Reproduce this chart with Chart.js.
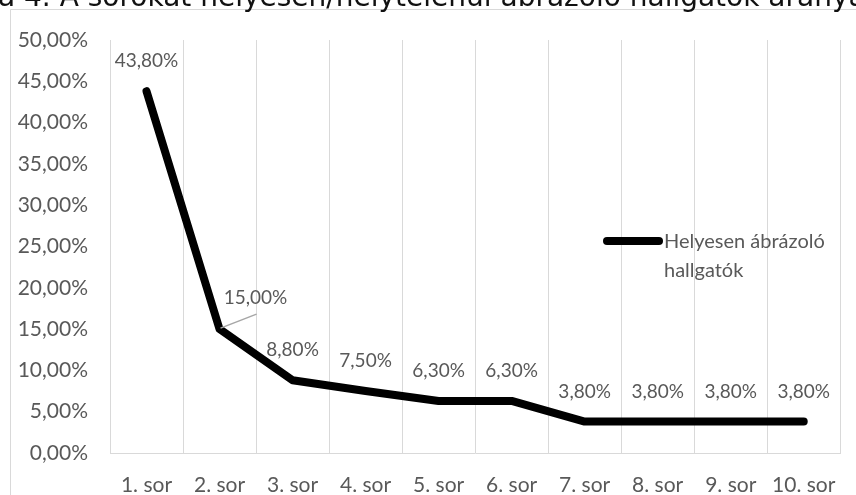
<!DOCTYPE html>
<html>
<head>
<meta charset="utf-8">
<script src="https://cdn.jsdelivr.net/npm/chart.js@4.4.1/dist/chart.umd.min.js"></script>
<style>
  html, body { margin: 0; padding: 0; background: #ffffff; overflow: hidden; }
  #wrap { position: relative; width: 856px; height: 495px; }
</style>
</head>
<body>
<div id="wrap"><canvas id="chart" width="856" height="495"></canvas></div>
<script>
// Sorok és a helyesen ábrázoló hallgatók aránya (%)
const categories = ['1. sor', '2. sor', '3. sor', '4. sor', '5. sor', '6. sor', '7. sor', '8. sor', '9. sor', '10. sor'];
const helyesenAbrazolo = [43.8, 15.0, 8.8, 7.5, 6.3, 6.3, 3.8, 3.8, 3.8, 3.8];
const seriesName = ['Helyesen ábrázoló', 'hallgatók'];
const titleText = 'ábra 4. A sorokat helyesen/helytelenül ábrázoló hallgatók aránya';
const titleHiddenPrefix = 'ábr';

const FONT = "Lato, 'DejaVu Sans', sans-serif";
const TITLE_FONT = "'DejaVu Sans', sans-serif";
const TEXT = '#595959';
const GRID = '#d9d9d9';

const fmtPct = v => v.toFixed(2).replace('.', ',') + '%';

// Outer frame plus the (top-clipped) caption above it
const framePlugin = {
  id: 'frame',
  beforeDraw(chart) {
    const ctx = chart.ctx;
    ctx.save();
    ctx.fillStyle = '#ffffff';
    ctx.fillRect(0, 0, chart.width, chart.height);
    ctx.strokeStyle = GRID;
    ctx.lineWidth = 1;
    ctx.beginPath();
    ctx.moveTo(10.5, chart.height);
    ctx.lineTo(10.5, 9.5);
    ctx.lineTo(chart.width, 9.5);
    ctx.stroke();
    ctx.font = '28px ' + TITLE_FONT;
    ctx.fillStyle = '#111111';
    ctx.textBaseline = 'alphabetic';
    ctx.textAlign = 'left';
    const off = ctx.measureText(titleHiddenPrefix).width;
    ctx.fillText(titleText, -off - 2, 6);
    ctx.restore();
  }
};

// Value labels above each point; the second one sits off to the side with a leader line
const valueLabelPlugin = {
  id: 'valueLabels',
  afterDatasetsDraw(chart) {
    const ctx = chart.ctx;
    const meta = chart.getDatasetMeta(0);
    ctx.save();
    ctx.font = '19px ' + FONT;
    ctx.fillStyle = TEXT;
    ctx.textAlign = 'center';
    ctx.textBaseline = 'middle';
    meta.data.forEach((pt, i) => {
      const v = chart.data.datasets[0].data[i];
      let x = pt.x, y = pt.y - 30;
      if (i === 1) {
        x = pt.x + 36;
        y = pt.y - 31;
        ctx.strokeStyle = '#a6a6a6';
        ctx.lineWidth = 1.5;
        ctx.beginPath();
        ctx.moveTo(pt.x + 1, pt.y - 1);
        ctx.lineTo(pt.x + 37, pt.y - 15);
        ctx.stroke();
      }
      ctx.fillText(fmtPct(v), x, y);
    });
    ctx.restore();
  }
};

// Legend drawn inside the plot, to the right
const legendPlugin = {
  id: 'sideLegend',
  afterDraw(chart) {
    const ctx = chart.ctx;
    const ds = chart.data.datasets[0];
    ctx.save();
    ctx.strokeStyle = ds.borderColor;
    ctx.lineWidth = 8;
    ctx.lineCap = 'round';
    ctx.beginPath();
    ctx.moveTo(607, 241);
    ctx.lineTo(659, 241);
    ctx.stroke();
    ctx.font = '20px ' + FONT;
    ctx.fillStyle = TEXT;
    ctx.textAlign = 'left';
    ctx.textBaseline = 'middle';
    ctx.fillText(seriesName[0], 664, 242);
    ctx.fillText(seriesName[1], 664, 271);
    ctx.restore();
  }
};

new Chart(document.getElementById('chart'), {
  type: 'line',
  data: {
    labels: categories,
    datasets: [{
      label: seriesName.join(' '),
      data: helyesenAbrazolo,
      borderColor: '#000000',
      backgroundColor: '#000000',
      borderWidth: 8,
      borderCapStyle: 'round',
      borderJoinStyle: 'round',
      pointRadius: 0,
      pointHoverRadius: 0,
      tension: 0,
      fill: false
    }]
  },
  options: {
    responsive: false,
    animation: false,
    events: [],
    layout: { padding: { top: 40, right: 12, left: 0, bottom: 0 } },
    plugins: {
      legend: { display: false },
      title: { display: false },
      tooltip: { enabled: false }
    },
    scales: {
      x: {
        type: 'category',
        offset: true,
        grid: { display: true, offset: true, color: GRID, lineWidth: 1, drawTicks: false },
        border: { display: true, color: GRID, width: 1 },
        ticks: { color: TEXT, font: { family: FONT, size: 21 }, padding: 20, maxRotation: 0, autoSkip: false },
        afterFit(scale) { scale.height = 42; }
      },
      y: {
        min: 0,
        max: 50,
        grid: { display: false, drawTicks: false },
        border: { display: false },
        ticks: {
          stepSize: 5,
          color: TEXT,
          font: { family: FONT, size: 21 },
          padding: 22,
          callback: v => fmtPct(v)
        },
        afterFit(scale) { scale.width = 110; }
      }
    }
  },
  plugins: [framePlugin, valueLabelPlugin, legendPlugin]
});
</script>
</body>
</html>
